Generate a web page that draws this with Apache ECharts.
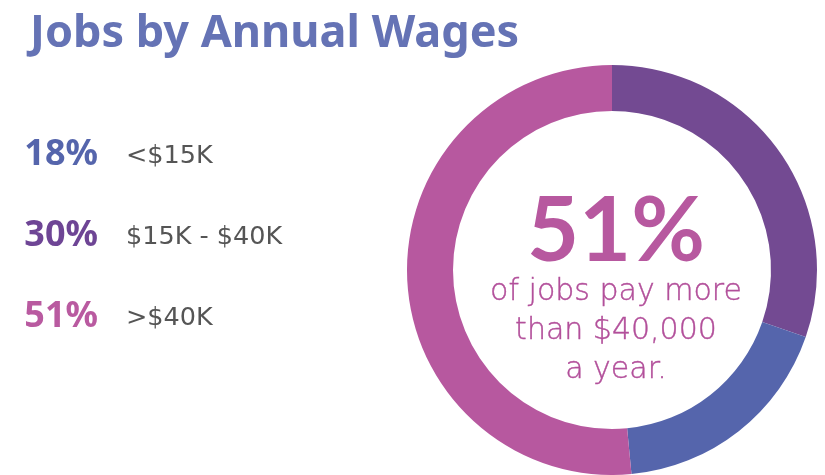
<!DOCTYPE html>
<html>
<head>
<meta charset="utf-8">
<script src="https://cdn.jsdelivr.net/npm/echarts@6/dist/echarts.min.js"></script>
<style>
  html, body { margin: 0; padding: 0; background: #fff; }
  #main { width: 825px; height: 475px; }
</style>
</head>
<body>
<div id="main"></div>
<script>
  // wage bands, in the order they sit around the ring (clockwise from top)
  const bands = ['$15K - $40K', '<$15K', '>$40K']
  const shares = [30, 18, 51]
  const colors = ['#734a92', '#5565ac', '#b7589f']

  // legend rows on the left, top to bottom
  const legendOrder = [1, 0, 2]
  const legendColors = ['#5565ac', '#6e4595', '#b95aa0']

  const chart = echarts.init(document.getElementById('main'))

  const legendItems = []
  legendOrder.forEach(function (idx, row) {
    const base = 166 + row * 81
    legendItems.push({
      type: 'text',
      x: 98, y: base - 11,
      style: {
        text: shares[idx] + '%',
        fill: legendColors[row],
        font: 'bold 36px "Noto Sans"',
        align: 'right',
        verticalAlign: 'middle'
      }
    })
    legendItems.push({
      type: 'text',
      x: 126, y: base - 10,
      style: {
        text: bands[idx],
        fill: '#555555',
        font: '25.5px "DejaVu Sans"',
        align: 'left',
        verticalAlign: 'middle'
      }
    })
  })

  // big number in the hole, then the caption under it
  const centerText = [
    { text: shares[2] + '%', y: 232, font: 'bold 90px Lato', w: 0 },
    { text: 'of jobs pay more', y: 292, font: '300 30px "DejaVu Sans"', w: 0.4 },
    { text: 'than $40,000', y: 331, font: '300 30px "DejaVu Sans"', w: 0.4 },
    { text: 'a year.', y: 370, font: '300 30px "DejaVu Sans"', w: 0.4 }
  ].map(function (t) {
    return {
      type: 'text',
      x: 616, y: t.y,
      style: {
        text: t.text,
        fill: t.w ? '#b24f9a' : '#b7589f',
        stroke: '#b24f9a',
        lineWidth: t.w,
        font: t.font,
        align: 'center',
        verticalAlign: 'middle'
      }
    }
  })

  const option = {
    backgroundColor: '#ffffff',
    title: {
      text: 'Jobs by Annual Wages',
      left: 25,
      top: 7,
      textStyle: {
        color: '#6573b5',
        fontFamily: 'Noto Sans',
        fontWeight: 'bold',
        fontSize: 45
      }
    },
    graphic: legendItems.concat(centerText),
    series: [{
      type: 'pie',
      center: [612, 270],
      radius: [159, 205],
      startAngle: 90,
      clockwise: true,
      silent: true,
      animation: false,
      label: { show: false },
      labelLine: { show: false },
      data: bands.map(function (b, i) {
        return { name: b, value: shares[i], itemStyle: { color: colors[i] } }
      })
    }]
  }
  chart.setOption(option, true)
</script>
</body>
</html>
